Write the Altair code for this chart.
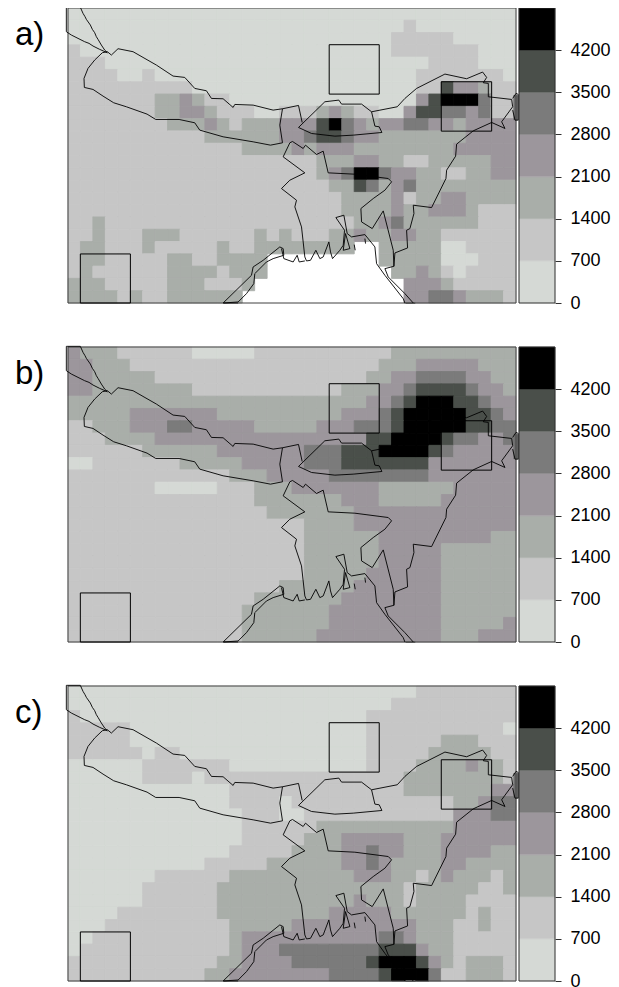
import altair as alt
import pandas as pd

FONT = "Liberation Sans"
LEVEL_COLORS = ["#D5D9D5", "#C6C6C6", "#A9AEA9", "#9C969C", "#7B7B7B", "#4A4F4A", "#000000"]
BREAKS = [0, 700, 1400, 2100, 2800, 3500, 4200, 4900]
TICKS = [0, 700, 1400, 2100, 2800, 3500, 4200]
PANELS = ["a)", "b)", "c)"]

GRID_A = [
"0*36","0*27 1*1 0*8","0*26 1*5 0*5","1*1 0*25 1*7 0*3","1*3 0*26 1*4 0*3","1*4 0*2 1*1 0*21 1*7 0*1",
"1*10 0*18 1*2 5*1 3*2 2*1 1*2","1*7 2*2 3*1 2*1 1*2 0*15 3*1 5*1 6*3 4*1 1*2",
"1*7 2*2 3*2 2*1 1*3 0*2 1*3 2*1 3*1 2*1 1*2 0*2 3*1 5*2 4*2 3*1 4*1 1*2",
"1*8 2*3 3*1 2*1 1*1 2*3 3*3 5*1 6*1 4*1 3*1 2*1 3*2 4*2 3*2 2*1 3*4",
"1*11 2*6 3*2 4*1 5*2 4*1 3*2 2*7 3*4","1*14 2*4 3*1 2*1 3*3 2*8 3*5","1*20 2*3 3*2 2*2 1*2 2*5 3*2",
"1*20 2*1 3*1 4*1 6*2 4*1 3*2 2*2 1*2 2*2 3*2","1*21 2*2 5*1 4*1 2*1 3*1 4*1 2*8",
"1*22 2*4 3*1 1*1 2*2 3*2 2*4","1*22 2*4 3*1 2*2 3*3 2*1 1*3","1*2 2*1 1*20 2*2 3*1 4*1 2*6 1*3",
"1*2 2*1 1*3 2*3 1*6 2*1 1*1 2*1 1*3 2*2 3*1 2*2 3*2 2*2 1*6",
"1*1 2*2 1*3 2*1 1*5 2*1 1*2 2*8 W*2 2*5 0*2 1*4","1*1 2*2 1*5 2*2 1*2 2*4 W*9 2*5 0*3 1*3",
"1*1 2*1 1*6 2*4 1*1 2*3 W*10 2*2 3*1 2*1 1*1 0*1 1*4","2*3 1*5 2*3 1*3 2*1 W*12 3*3 2*1 1*5",
"2*4 1*1 2*1 1*2 2*6 W*13 3*2 4*2 3*1 2*3 1*1",
]
GRID_B = [
"3*1 2*3 1*6 0*5 1*11 2*10","3*2 2*3 1*20 2*3 3*5 2*3","3*2 2*5 1*17 2*2 3*2 4*4 3*2 2*2",
"3*2 2*8 1*12 2*3 3*2 4*1 5*4 4*1 3*2 2*1","2*24 3*2 4*1 5*1 6*3 5*2 4*1 3*2",
"2*5 3*7 2*10 3*3 4*1 5*1 6*5 5*2 4*1 3*1","1*2 2*3 3*3 4*2 3*5 2*5 3*3 4*3 5*1 6*5 5*2 4*2",
"1*3 2*4 3*17 5*2 6*4 5*1 4*2 3*2 4*1","1*6 2*6 3*7 4*3 5*3 6*4 5*1 4*1 3*5","0*2 1*7 2*5 3*5 4*3 5*7 3*7",
"1*13 2*3 3*5 4*8 3*7","1*7 0*5 1*3 2*3 3*7 2*6 3*5","1*15 2*7 3*3 2*5 3*6","1*16 2*7 3*13","1*19 2*4 3*13",
"1*19 2*6 3*9 2*2","1*19 2*6 3*5 2*6","1*19 2*6 3*5 2*6","1*19 2*5 3*6 2*6","1*17 2*6 3*7 2*6","1*15 2*7 3*8 2*6",
"1*14 2*7 3*9 2*6","1*14 2*7 3*9 2*5 3*1","1*14 2*6 3*10 2*3 3*3",
]
GRID_C = [
"0*28 1*8","0*26 1*10","1*1 0*23 1*12","1*5 0*19 1*11 0*1","1*5 0*19 1*6 2*3 1*3","1*6 0*1 1*2 0*15 1*5 2*5 1*2",
"0*6 1*7 0*11 1*4 2*4 3*1 2*2 1*1","0*6 1*4 0*1 1*16 2*8 1*1","0*13 1*14 2*7 3*2","0*13 1*4 0*1 1*13 2*2 3*1 4*2",
"0*14 1*3 0*2 1*12 3*3 4*2","0*14 1*6 2*11 3*5","0*14 1*5 2*3 3*5 2*3 3*6","0*13 1*5 2*4 3*2 4*1 3*2 2*3 3*4 2*2",
"0*11 1*5 2*6 3*2 4*1 3*1 2*4 3*2 2*4","0*7 1*6 2*10 3*3 2*2 1*1 2*1 3*1 2*3 1*1 2*1",
"0*6 1*6 2*15 1*1 2*5 1*2 2*1","0*6 1*6 2*11 3*1 2*3 1*1 2*4 1*4","0*4 1*8 2*9 3*5 2*6 1*1 2*1 1*2",
"0*3 1*10 2*5 3*10 2*3 1*2 2*1 1*2","0*2 1*11 2*1 3*11 4*2 3*1 2*3 1*5","0*1 1*12 2*1 3*3 4*8 5*3 3*1 2*2 1*5",
"1*12 2*2 3*4 4*6 5*1 6*3 5*1 3*1 2*1 1*1 2*3 1*1","1*11 2*2 3*8 4*4 5*1 6*3 4*1 1*2 2*3 1*1",
]
GRIDS = [GRID_A, GRID_B, GRID_C]

# map domain (map units)
X0, X1, Y0, Y1 = 25, 1368, 24, 908
NCOL, NROW = 36, 24

NW_STRIP = [(20,22),(62,22),(70,40),(76,50),(80,58),(92,75),(98,88),(105,98),(110,110),(115,118),(125,135),(135,150),(143,158),
            (120,148),(100,138),(88,130),(75,125),(55,115),(35,105),(20,95),(20,22)]
NEPAL = [(128,158),(105,180),(85,205),(73,235),(74,262),(100,268),(130,288),(162,308),(200,320),(262,342),(288,358),(358,358),
         (405,368),(420,390),(490,410),(580,425),(632,435),(668,428),(660,375),(668,326),(640,330),(580,315),(525,313),(520,322),
         (490,296),(455,295),(440,272),(405,265),(375,232),(340,228),(290,195),(220,155),(175,146),(155,165),(143,155),(128,158)]
SIKKIM = [(668,326),(716,316),(727,367)]
BHUTAN = [(716,382),(795,305),(837,300),(845,312),(905,312),(935,335),(945,378),(958,380),(966,397),(880,405),(825,408),(755,400),(716,382)]
NE_NORTH = [(935,335),(1012,320),(1035,295),(1070,265),(1155,222),(1220,236),(1268,216),(1280,232),(1270,248),(1285,250),(1285,290),
            (1355,298),(1358,320),(1325,365),(1335,385),(1295,367),(1240,392),(1190,432),(1187,468),(1160,510),(1158,535),(1115,622),
            (1060,615),(1062,640),(1050,685),(1040,690),(1043,743),(1005,758),(1002,798),(975,805),(985,830),(1035,880),(1060,908)]
BANGLA_N = [(690,428),(670,470),(735,518),(690,540),(665,565),(710,600),(705,620),(725,680),(735,770),(740,782),(752,780),(768,750),
            (780,775),(790,770),(807,725),(812,755),(818,775),(840,750),(850,735),(854,690),(828,652),(852,645),(862,700),(875,710),
            (915,703),(945,740),(950,790),(975,825),(1030,895),(1035,908)]
BANGLA_E = [(690,428),(698,424),(730,445),(737,435),(770,463),(790,453),(805,518),(885,522),(985,535),(995,545),(975,570),(940,595),
            (903,625),(905,665),(937,685),(970,632),(1000,750),(1002,798)]
COAST_W = [(735,782),(718,785),(712,765),(700,785),(672,775),(665,745)]
STRIP_W = [(490,908),(575,825),(580,800),(610,780),(660,740),(670,745),(672,765),(640,775),(620,785),(585,820),(582,850),(560,880),(535,905),(490,908)]
ISLAND = [(857,700),(850,750),(870,745),(857,700)]
ISLET_1 = [(883,733),(886,750)]
ISLET_2 = [(915,715),(917,730)]
RIGHT_BLOB = [(1358,295),(1368,280),(1375,283),(1375,360),(1365,360),(1358,330)]
OUTLINES = [NW_STRIP, NEPAL, SIKKIM, BHUTAN, NE_NORTH, BANGLA_N, BANGLA_E, COAST_W, STRIP_W, ISLAND, ISLET_1, ISLET_2, RIGHT_BLOB]
BOXES = [(808,134,958,282), (1144,245,1295,393), (62,761,212,908)]
PATCHES = [(1360,285,1375,360), (492,905,535,911), (1037,905,1066,911)]

xs = alt.Scale(domain=[X0, X1], nice=False, zero=False)
ys = alt.Scale(domain=[Y1, Y0], nice=False, zero=False)
color_scale = alt.Scale(domain=[str(i) for i in range(7)], range=LEVEL_COLORS)


def decode(rle):
    out = []
    for tok in rle.split():
        v, n = tok.split("*")
        out += [v] * int(n)
    assert len(out) == NCOL, (rle, len(out))
    return out


def cell_table(grid):
    recs = []
    dx = (X1 - X0) / NCOL
    dy = (Y1 - Y0) / NROW
    for r, rle in enumerate(grid):
        for c, v in enumerate(decode(rle)):
            if v == "W":
                continue
            recs.append(dict(x=X0 + c * dx, x2=X0 + (c + 1) * dx, y=Y0 + r * dy, y2=Y0 + (r + 1) * dy, level=v))
    return pd.DataFrame(recs)


line_df = pd.DataFrame([dict(id=i, o=j, x=p[0], y=p[1]) for i, l in enumerate(OUTLINES) for j, p in enumerate(l)])
box_df = pd.DataFrame(BOXES, columns=["x", "y", "x2", "y2"])
patch_df = pd.DataFrame(PATCHES, columns=["x", "y", "x2", "y2"])
frame_df = pd.DataFrame([dict(x=X0, x2=X1, y=Y0, y2=Y1)])
bar_df = pd.DataFrame([dict(y=BREAKS[i], y2=BREAKS[i + 1], level=str(i)) for i in range(7)])


def rect_enc(base):
    return base.encode(
        x=alt.X("x:Q", scale=xs, axis=None), x2="x2:Q",
        y=alt.Y("y:Q", scale=ys, axis=None), y2="y2:Q",
    )


def map_panel(grid):
    cells = rect_enc(alt.Chart(cell_table(grid)).mark_rect(strokeWidth=0.9)).encode(
        fill=alt.Fill("level:N", scale=color_scale, legend=None),
        stroke=alt.Stroke("level:N", scale=color_scale, legend=None),
    )
    patches = rect_enc(alt.Chart(patch_df).mark_rect(fill="#6f6f6f", clip=False))
    frame = rect_enc(alt.Chart(frame_df).mark_rect(fill=None, stroke="#404040", strokeWidth=1, clip=False))
    lines = alt.Chart(line_df).mark_line(color="black", strokeWidth=0.9, clip=False).encode(
        x=alt.X("x:Q", scale=xs, axis=None), y=alt.Y("y:Q", scale=ys, axis=None),
        detail="id:N", order="o:Q",
    )
    boxes = rect_enc(alt.Chart(box_df).mark_rect(fill=None, stroke="black", strokeWidth=1, clip=False))
    return alt.layer(cells, patches, frame, lines, boxes).properties(width=448, height=295)


def colorbar():
    bar = alt.Chart(bar_df).mark_rect(strokeWidth=0.4).encode(
        y=alt.Y("y:Q", scale=alt.Scale(domain=[0, 4900], nice=False, zero=False),
                axis=alt.Axis(orient="right", values=TICKS, title=None, domain=False, grid=False, tickSize=6,
                              tickColor="#303030", tickWidth=1, labelPadding=9, labelFont=FONT, labelFontSize=18,
                              labelColor="black", format="d")),
        y2="y2:Q",
        fill=alt.Fill("level:N", scale=color_scale, legend=None),
        stroke=alt.Stroke("level:N", scale=color_scale, legend=None),
    )
    frame = alt.Chart(pd.DataFrame([dict(y=0, y2=4900)])).mark_rect(fill=None, stroke="#303030", strokeWidth=1).encode(
        y=alt.Y("y:Q", scale=alt.Scale(domain=[0, 4900], nice=False, zero=False)), y2="y2:Q",
    )
    return alt.layer(bar, frame).properties(width=36, height=295)


def label_panel(txt):
    return alt.Chart(pd.DataFrame([dict(t=txt)])).mark_text(
        font=FONT, fontSize=33, align="left", baseline="alphabetic", color="black"
    ).encode(x=alt.value(7), y=alt.value(37), text="t:N").properties(width=57, height=295)


cells_all = []
for p, g in zip(PANELS, GRIDS):
    cells_all += [label_panel(p), map_panel(g), colorbar()]
chart = alt.concat(*cells_all, columns=3, spacing=alt.RowColnumber(row=44, column=3), bounds="flush",
                   ).properties(padding={"top": -3, "left": 0, "right": 0, "bottom": 0}).configure_view(stroke=None)
chart.save("out.html", embed_options={"renderer": "svg", "actions": False})
